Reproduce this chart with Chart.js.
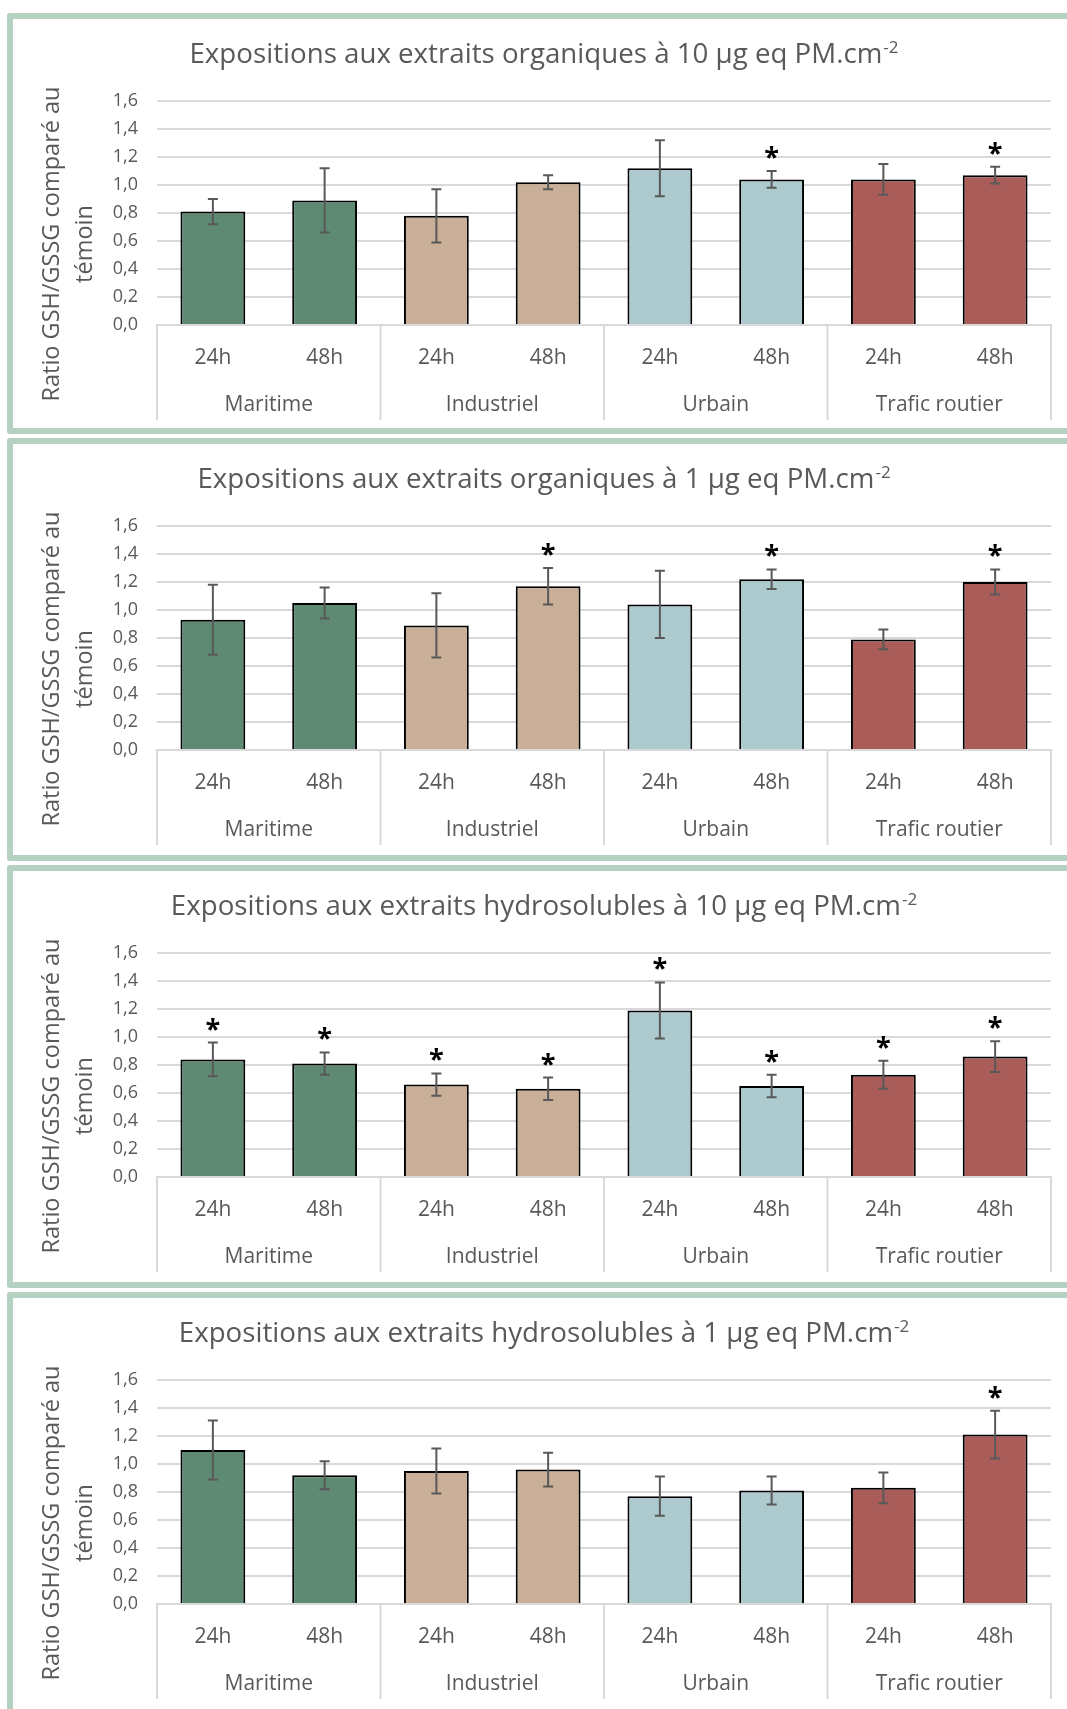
<!DOCTYPE html>
<html>
<head>
<meta charset="utf-8">
<script src="https://cdn.jsdelivr.net/npm/chart.js@4.4.0/dist/chart.umd.min.js"></script>
<style>
  body { margin: 0; background: #fff; width: 1067px; height: 1709px; overflow: hidden; position: relative; }
  .panel { position: absolute; left: 7px; width: 1090px; border: 6px solid #b4d1c2; border-radius: 3px; background: #fff; }
  .panel canvas { display: block; }
</style>
</head>
<body>
<div class="panel" style="top:13px;height:409px"><canvas id="c0" width="1061" height="409"></canvas></div>
<div class="panel" style="top:438px;height:411px"><canvas id="c1" width="1061" height="411"></canvas></div>
<div class="panel" style="top:865px;height:411px"><canvas id="c2" width="1061" height="411"></canvas></div>
<div class="panel" style="top:1292px;height:412px"><canvas id="c3" width="1061" height="412"></canvas></div>
<script>
// Données
const groups = ['Maritime', 'Industriel', 'Urbain', 'Trafic routier'];
const times = ['24h', '48h'];
const groupColors = ['#5e8a73', '#c9ae98', '#adcacf', '#a95c58'];

const titles = [
  'Expositions aux extraits organiques à 10 µg eq PM.cm',
  'Expositions aux extraits organiques à 1 µg eq PM.cm',
  'Expositions aux extraits hydrosolubles à 10 µg eq PM.cm',
  'Expositions aux extraits hydrosolubles à 1 µg eq PM.cm'
];
const titleSup = '-2';
const yTitle = ['Ratio GSH/GSSG comparé au', 'témoin'];

// organiques 10 µg
const org10 = [0.81, 0.89, 0.78, 1.02, 1.12, 1.04, 1.04, 1.07];
const org10Err = [0.09, 0.23, 0.19, 0.05, 0.20, 0.06, 0.11, 0.06];
const org10Sig = [0, 0, 0, 0, 0, 1, 0, 1];
// organiques 1 µg
const org1 = [0.93, 1.05, 0.89, 1.17, 1.04, 1.22, 0.79, 1.20];
const org1Err = [0.25, 0.11, 0.23, 0.13, 0.24, 0.07, 0.07, 0.09];
const org1Sig = [0, 0, 0, 1, 0, 1, 0, 1];
// hydrosolubles 10 µg
const hyd10 = [0.84, 0.81, 0.66, 0.63, 1.19, 0.65, 0.73, 0.86];
const hyd10Err = [0.12, 0.08, 0.08, 0.08, 0.20, 0.08, 0.10, 0.11];
const hyd10Sig = [1, 1, 1, 1, 1, 1, 1, 1];
// hydrosolubles 1 µg
const hyd1 = [1.10, 0.92, 0.95, 0.96, 0.77, 0.81, 0.83, 1.21];
const hyd1Err = [0.21, 0.10, 0.16, 0.12, 0.14, 0.10, 0.11, 0.17];
const hyd1Sig = [0, 0, 0, 0, 0, 0, 0, 1];

const labels = groups.flatMap(() => times);
const barColors = groups.flatMap((g, i) => times.map(() => groupColors[i]));

const FONT = '"Open Sans", sans-serif';
const GREY = '#595959';
const GRID = '#d9d9d9';

function makeChart(id, title, values, errors, sig) {
  const canvas = document.getElementById(id);
  const H = canvas.height;

  // barres d'erreur, étoiles, séparateurs de groupes et titres
  const decor = {
    id: 'decor',
    afterDatasetsDraw(chart) {
      const ctx = chart.ctx;
      const y = chart.scales.y;
      const meta = chart.getDatasetMeta(0);
      ctx.save();
      ctx.strokeStyle = GREY;
      ctx.lineWidth = 2;
      meta.data.forEach((bar, i) => {
        const top = y.getPixelForValue(values[i] + errors[i]);
        const bot = y.getPixelForValue(values[i] - errors[i]);
        ctx.beginPath();
        ctx.moveTo(bar.x, top); ctx.lineTo(bar.x, bot);
        ctx.moveTo(bar.x - 5, top); ctx.lineTo(bar.x + 5, top);
        ctx.moveTo(bar.x - 5, bot); ctx.lineTo(bar.x + 5, bot);
        ctx.stroke();
        if (sig[i]) {
          ctx.fillStyle = '#000';
          ctx.font = 'bold 27px ' + FONT;
          ctx.textAlign = 'center';
          ctx.textBaseline = 'alphabetic';
          ctx.fillText('*', bar.x, top - 5);
        }
      });
      ctx.restore();
    },
    afterDraw(chart) {
      const ctx = chart.ctx;
      const xs = chart.scales.x;
      const x2 = chart.scales.x2;
      ctx.save();
      // séparateurs de groupes
      ctx.strokeStyle = GRID;
      ctx.lineWidth = 2;
      for (let k = 0; k <= groups.length; k++) {
        const px = xs.left + k * xs.width / groups.length;
        ctx.beginPath();
        ctx.moveTo(px, xs.top);
        ctx.lineTo(px, x2.bottom + 2);
        ctx.stroke();
      }
      // titre avec exposant
      ctx.fillStyle = GREY;
      ctx.textBaseline = 'alphabetic';
      ctx.textAlign = 'left';
      ctx.font = '27.7px ' + FONT;
      const wMain = ctx.measureText(title).width;
      ctx.font = '17px ' + FONT;
      const wSup = ctx.measureText(titleSup).width;
      const x0 = chart.width / 2 - (wMain + wSup) / 2;
      ctx.font = '27.7px ' + FONT;
      ctx.fillText(title, x0, 44);
      ctx.font = '17px ' + FONT;
      ctx.fillText(titleSup, x0 + wMain + 1, 34);
      // titre de l'axe Y
      ctx.font = '23.5px ' + FONT;
      ctx.textAlign = 'center';
      ctx.textBaseline = 'middle';
      const cy = chart.chartArea.top + 143;
      [39, 72].forEach((px, i) => {
        ctx.save();
        ctx.translate(px, cy);
        ctx.rotate(-Math.PI / 2);
        ctx.fillText(yTitle[i], 0, 0);
        ctx.restore();
      });
      ctx.restore();
    }
  };

  return new Chart(canvas, {
    type: 'bar',
    data: {
      labels: labels,
      datasets: [{
        data: values,
        backgroundColor: barColors,
        borderColor: '#000',
        borderWidth: 2,
        categoryPercentage: 1,
        barPercentage: 0.58
      }]
    },
    options: {
      responsive: false,
      animation: false,
      layout: { padding: { top: 82, right: 23, bottom: H - 399, left: 0 } },
      plugins: { legend: { display: false }, tooltip: { enabled: false } },
      scales: {
        x: {
          afterFit: s => { s.height = 45; },
          grid: { display: false, drawTicks: false },
          border: { display: true, color: GRID, width: 2 },
          ticks: { color: GREY, font: { family: FONT, size: 21 }, padding: 20, maxRotation: 0 }
        },
        x2: {
          type: 'category',
          position: 'bottom',
          labels: groups,
          offset: true,
          afterFit: s => { s.height = 48; },
          grid: { display: false, drawTicks: false },
          border: { display: false },
          ticks: { color: GREY, font: { family: FONT, size: 21 }, padding: 22, maxRotation: 0 }
        },
        y: {
          min: 0,
          max: 1.6,
          afterFit: s => { s.width = 144; },
          grid: { color: GRID, lineWidth: 2, drawTicks: false },
          border: { display: false },
          ticks: {
            stepSize: 0.2,
            autoSkip: false,
            padding: 19,
            color: GREY,
            font: { family: FONT, size: 18 },
            callback: v => v.toFixed(1).replace('.', ',')
          }
        }
      }
    },
    plugins: [decor]
  });
}

makeChart('c0', titles[0], org10, org10Err, org10Sig);
makeChart('c1', titles[1], org1, org1Err, org1Sig);
makeChart('c2', titles[2], hyd10, hyd10Err, hyd10Sig);
makeChart('c3', titles[3], hyd1, hyd1Err, hyd1Sig);
</script>
</body>
</html>
